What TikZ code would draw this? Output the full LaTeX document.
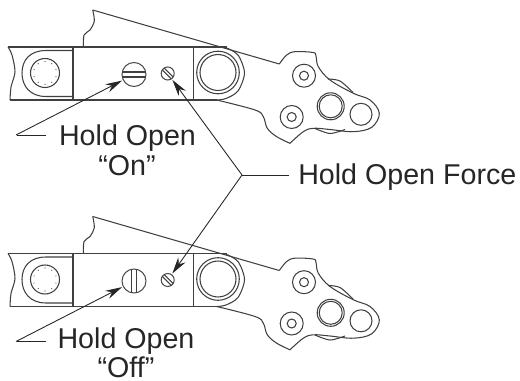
\documentclass[tikz,border=0pt]{standalone}
\usepackage{fontspec}
\setmainfont{Liberation Sans}
\usetikzlibrary{arrows.meta}

\tikzset{
  part/.style={line width=0.6pt,color=black!75},
  leader/.style={line width=0.5pt,color=black!85,shorten >=0.5pt},
  screwbody/.style={draw,circle,inner sep=0pt,line width=0.6pt,color=black!70},
  callout/.style={anchor=base,inner sep=0pt,color=black!85,font=\fontsize{16.3pt}{18pt}\selectfont},
}

\begin{document}
\begin{tikzpicture}[x=0.02cm,y=-0.02cm,>={Stealth[length=9.5pt,width=5pt]}]

\useasboundingbox (0,0) rectangle (520,381);

% The two views of the arm, with the slot of the large screw turned
\foreach \off/\tag/\ang in {0/on/0, 206.5/off/90} {
\begin{scope}[shift={(0,\off)}]

  % Body, broken off on the left
  \draw [part] (8,47) -- (227,47);
  \draw [part] (10,100) -- (217,100);
  \draw [part] plot [smooth] coordinates {(8,47) (12,55) (15,72) (11,87) (10,100)};
  \draw [part] (73,47) rectangle (193.5,100);

  % Break line behind the block
  \draw [part] plot [smooth] coordinates {(92.7,10) (94.3,21) (90,30) (84,35) (83.5,47)};

  % Left lug and its pin
  \draw [part] (73,50.5) -- (46,50.5) .. controls (30,50.5) and (22,60) .. (22,73)
    .. controls (22,86) and (30,96.5) .. (46,96.5) -- (73,96.5);
  \draw [part] (45,73) circle (14.5);
  \foreach \a in {0,36,...,324} {
    \fill [black!70] (45,73) ++(\a+18:11.5) circle (0.6);
  }

  % Roller and the arc round it
  \draw [part] plot [smooth] coordinates {(226,47.7) (238,55) (244.5,73) (238,91) (226,98.5) (217,100)};
  \draw [part] (218,72.5) circle (21.3);
  \draw [part] (218,72.5) circle (18);

  % Outline of the arm
  \draw [part] (92.7,10) -- (279.3,64);
  \draw [part] plot [smooth,tension=0.6] coordinates {(279.3,64) (286.7,55) (295,51.7) (313,52.5) (316,56)
    (318.3,66.7) (330,80) (353.3,93.3) (370,100) (379.3,113.3) (371.7,127.3) (353.3,131.7)
    (330,129.5) (313.3,128.3) (303.3,131.7) (290,143.3)};
  \draw [part] plot [smooth,tension=0.6] coordinates {(290,143.3) (276.7,136.7) (267.3,128.3) (263.3,116.7) (255,110) (216.7,100)};
  \draw [part] plot [smooth] coordinates {(328,79) (340,81) (353,92.5)};
  \draw [part] plot [smooth] coordinates {(315,128.5) (330,133.5) (345,129.5)};

  % Holes on the arm
  \foreach \cx/\cy/\ro/\ri in {304/75.7/11.5/4.5, 291.7/117/11.5/4.5, 330.7/106.3/13.5/11.5} {
    \draw [part] (\cx,\cy) circle (\ro);
    \draw [part] (\cx,\cy) circle (\ri);
  }
  \draw [part] (361,114.3) circle (11);

  % Hold open screw and force screw
  \node [screwbody,fill=white,minimum size=0.48cm] (holdscrew\tag) at (134,74.5) {};
  \draw [part,rotate around={\ang:(holdscrew\tag.center)}] (122.3,72) -- (145.7,72) (122.3,77) -- (145.7,77);
  \node [screwbody,fill=white,minimum size=0.26cm] (forcescrew\tag) at (167.7,73.5) {};
  \draw [part,rotate around={-45:(forcescrew\tag.center)}] (161.3,72.2) -- (174.1,72.2) (161.3,74.8) -- (174.1,74.8);

  % Free ends of the hold open leader
  \coordinate (elbow\tag) at (16,135);
  \coordinate (stub\tag) at (46,135);

\end{scope}
}

% Labels
\node [callout] (holdon) at (127.5,146) {Hold Open};
\node [callout] (wordon) at (127,175.5) {“On”};
\node [callout] (holdoff) at (126,348) {Hold Open};
\node [callout] (wordoff) at (126,377) {“Off”};
\coordinate (forcejoin) at (242,175);
\node [callout,anchor=base west,inner sep=4.5pt] (forcelabel) at (290,185) {Hold Open Force};

% Leaders
\foreach \tag in {on,off} {
  \draw [leader] (stub\tag) -- (elbow\tag);
  \draw [leader,->] (elbow\tag) -- (holdscrew\tag);
  \draw [leader,->] (forcejoin) -- (forcescrew\tag);
}
\draw [leader] (forcejoin) -- (forcejoin -| forcelabel.west);

\end{tikzpicture}
\end{document}
